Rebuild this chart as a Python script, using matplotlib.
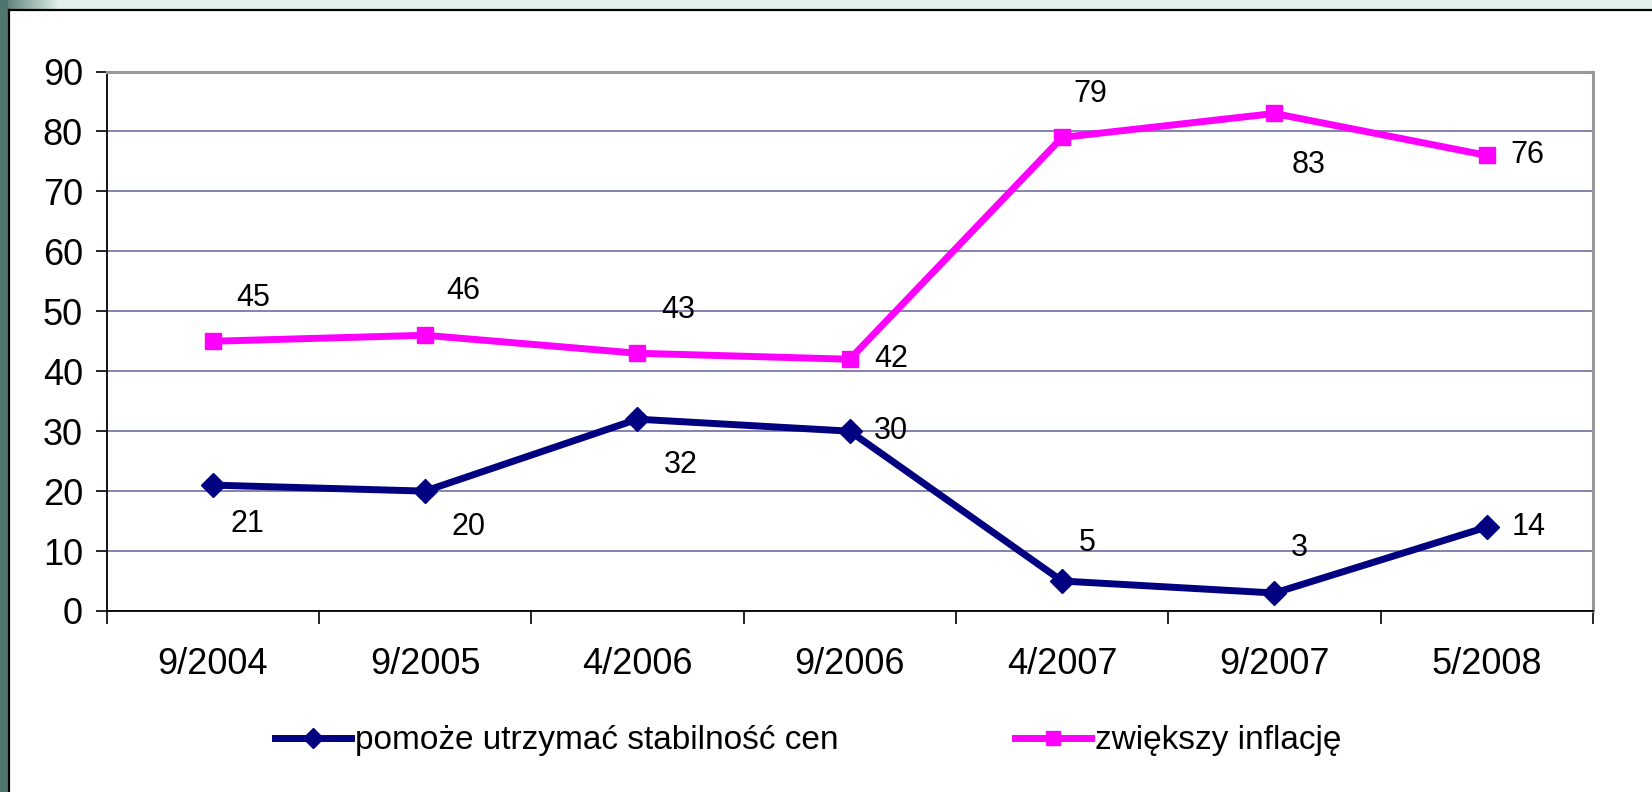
import numpy as np
import matplotlib
matplotlib.use("Agg")
import matplotlib.pyplot as plt
from matplotlib.patches import Rectangle
from matplotlib.lines import Line2D

plt.rcParams["font.family"] = ["Liberation Sans", "DejaVu Sans"]

categories = ["9/2004", "9/2005", "4/2006", "9/2006", "4/2007", "9/2007", "5/2008"]
stabilnosc = [21, 20, 32, 30, 5, 3, 14]
inflacja = [45, 46, 43, 42, 79, 83, 76]

# label placement per point: (dx, dy) in pixels
stab_offsets = [(35, -39), (43, -36), (43, -46), (41, 0), (25, 38), (25, 45), (42, 0)]
infl_offsets = [(41, 43), (38, 44), (41, 43), (41, 0), (28, 43), (34, -52), (41, 0)]

NAVY = "#000080"
MAGENTA = "#FF00FF"
GRID = "#7878a8"

W, H = 1652, 792
fig = plt.figure(figsize=(W / 100, H / 100), dpi=100)
fig.patch.set_facecolor("white")


def px_rect(x0, y0, x1, y1, color, z=0):
    # pixel box (top-left origin) to figure fraction
    fig.add_artist(Rectangle((x0 / W, 1 - y1 / H), (x1 - x0) / W, (y1 - y0) / H,
                             transform=fig.transFigure, facecolor=color,
                             edgecolor="none", zorder=z))


# slide frame: light strip on top, teal strip on the left
px_rect(0, 0, W, 10, "#e2efea")
grad = np.linspace(0, 1, 60)
for i, t in enumerate(grad[:-1]):
    c = (0.31 + 0.58 * t, 0.46 + 0.48 * t, 0.43 + 0.49 * t)
    px_rect(i, 0, i + 1, 10, c, z=1)
px_rect(0, 0, 8, H, "#4e766e", z=2)
fig.add_artist(Line2D([9 / W, 9 / W], [0, 1 - 10 / H], transform=fig.transFigure,
                      color="black", lw=1.6, zorder=3))
fig.add_artist(Line2D([9 / W, 1], [1 - 10 / H, 1 - 10 / H], transform=fig.transFigure,
                      color="black", lw=1.6, zorder=3))

ax = fig.add_axes([106.5 / W, 1 - 611 / H, (1593 - 106.5) / W, (611 - 71.5) / H])
x = np.arange(len(categories))

ax.plot(x, stabilnosc, color=NAVY, lw=5.0, marker="D", ms=12, mec=NAVY, mfc=NAVY,
        label="pomoże utrzymać stabilność cen", zorder=4)
ax.plot(x, inflacja, color=MAGENTA, lw=5.0, marker="s", ms=12, mec=MAGENTA, mfc=MAGENTA,
        label="zwiększy inflację", zorder=4)

for xi, v, (dx, dy) in zip(x, stabilnosc, stab_offsets):
    ax.annotate(str(v), (xi, v), xytext=(dx, dy), textcoords="offset pixels",
                ha="center", va="center", fontsize=22, zorder=5)
for xi, v, (dx, dy) in zip(x, inflacja, infl_offsets):
    ax.annotate(str(v), (xi, v), xytext=(dx, dy), textcoords="offset pixels",
                ha="center", va="center", fontsize=22, zorder=5)

ax.set_xlim(-0.5, len(categories) - 0.5)
ax.set_ylim(0, 90)
ax.set_yticks(range(0, 91, 10))
ax.yaxis.grid(True, color=GRID, lw=1.3)
ax.set_axisbelow(True)
ax.tick_params(axis="y", labelsize=26, length=8, width=1.2, pad=9, direction="out")

# category boundaries carry the ticks, labels sit in between
ax.set_xticks(np.arange(-0.5, len(categories), 1))
ax.set_xticklabels([])
ax.tick_params(axis="x", which="major", length=9, width=1.2, direction="out")
ax.set_xticks(x, minor=True)
ax.set_xticklabels(categories, minor=True)
ax.tick_params(axis="x", which="minor", length=0, labelsize=26, pad=26)

for s in ("left", "bottom"):
    ax.spines[s].set_color("black")
    ax.spines[s].set_linewidth(1.3)
for s in ("top", "right"):
    ax.spines[s].set_color("#999999")
    ax.spines[s].set_linewidth(2.2)

fig.legend(loc="center", bbox_to_anchor=(0.489, 1 - 741 / H), ncol=2, frameon=False,
           fontsize=24, handlelength=2.3, handletextpad=0.1, columnspacing=5.3,
           markerscale=0.85)

fig.savefig("out.png", dpi=100)
